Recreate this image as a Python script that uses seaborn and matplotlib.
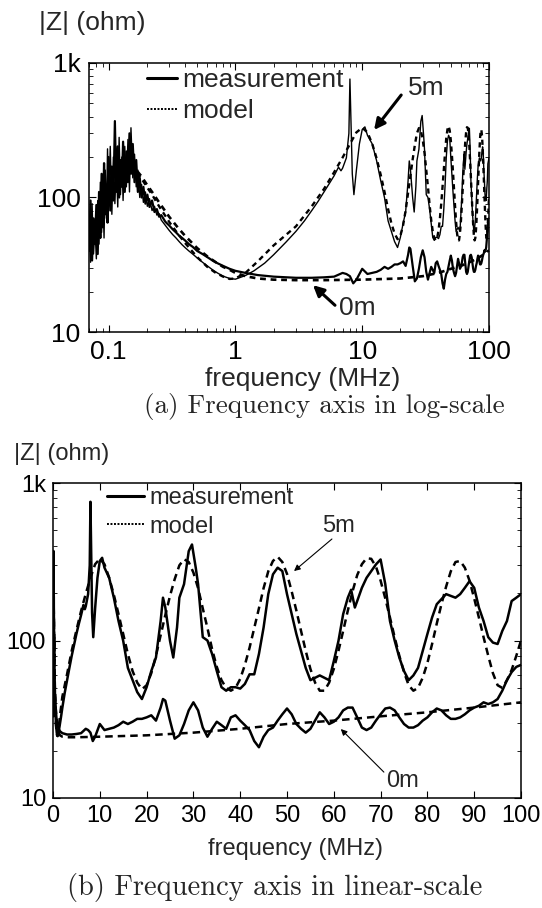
import numpy as np
import pandas as pd
import matplotlib
matplotlib.use("Agg")
import matplotlib.pyplot as plt
from matplotlib.lines import Line2D
import seaborn as sns

# ---------------- data ----------------
f_lo = [0.070, 0.072, 0.074, 0.076, 0.078, 0.080, 0.082, 0.084, 0.086, 0.088,
        0.090, 0.092, 0.094, 0.096, 0.098, 0.100, 0.103, 0.106, 0.109, 0.112,
        0.115, 0.118, 0.121, 0.124, 0.127, 0.130, 0.134, 0.138, 0.142, 0.146,
        0.150, 0.155, 0.160, 0.165, 0.170, 0.176, 0.182, 0.188, 0.195, 0.202,
        0.210, 0.22, 0.23, 0.24, 0.25, 0.26, 0.28, 0.30, 0.32, 0.34,
        0.36, 0.38, 0.40, 0.43, 0.46, 0.50, 0.55, 0.60, 0.66, 0.72,
        0.80, 0.90]

z_meas0_lo = [40, 95, 34, 70, 45, 88, 38, 110, 50, 150,
              60, 180, 75, 120, 65, 200, 80, 170, 95, 370,
              110, 240, 100, 190, 120, 260, 110, 220, 130, 300,
              150, 250, 130, 190, 110, 140, 100, 120, 90, 105,
              85, 95, 78, 82, 72, 74, 66, 62, 58, 55,
              52, 50, 48, 45, 43, 40, 38, 36, 34, 32.5,
              31, 29.5]

z_meas5_lo = [65, 33, 90, 38, 60, 35, 95, 45, 130, 55,
              110, 50, 160, 70, 230, 85, 240, 75, 200, 90,
              180, 85, 280, 105, 200, 95, 240, 120, 270, 110,
              330, 140, 210, 120, 160, 100, 125, 92, 110, 86,
              98, 80, 86, 74, 76, 68, 62, 57, 53, 50,
              47, 44.5, 42.5, 40, 38, 35.5, 33, 31, 29, 27.5,
              26, 25]

f_meas0_hi = [1.0, 1.2, 1.5, 2, 3, 4, 5, 6, 7, 7.5, 8, 8.5, 9,
              10, 11, 12, 13, 14, 15, 16, 17, 18, 19, 20, 21, 22, 23, 23.5,
              24, 25, 26, 27, 28, 29, 30, 31, 32, 33, 34, 35, 36, 37, 38, 39,
              40, 41, 42, 43, 44, 45, 46, 47, 48, 49, 50, 51, 52, 53, 54, 55,
              56, 57, 58, 59, 60, 61, 62, 63, 64, 65, 66, 67, 68, 69, 70, 71,
              72, 73, 74, 75, 76, 77, 78, 79, 80, 81, 82, 83, 84, 85, 86, 87,
              88, 89, 90, 91, 92, 93, 94, 95, 96, 97, 98, 99, 100]
z_meas0_hi = [28.5, 27.5, 26.5, 25.8, 25.3, 25.3, 25.5, 25.8, 27.5, 27, 26, 23, 24.5,
              29.5, 27, 27.5, 28, 29, 30.5, 29.5, 30.5, 31.8, 31.8, 32.5, 33.5, 31, 37.5, 42.5,
              41.5, 31, 23.8, 25, 29.5, 36, 40.5, 36, 28, 24.5, 27.5, 30.5, 29, 27.5, 32.5, 33.5,
              31, 29, 27, 23, 21, 24.5, 27, 28, 31, 34, 37, 34, 29.5, 27.5, 26, 27.5,
              31, 35, 32.5, 29.5, 30.5, 32.5, 36, 37.5, 37.5, 32.5, 28, 27, 28, 31, 34, 37,
              37.5, 36, 32.5, 29.5, 28, 28, 29, 31, 32.5, 35, 37, 36, 33.5, 31.8, 31.8, 32.5,
              34, 36, 37.5, 38.5, 40.5, 39.5, 40.5, 42.5, 48, 56, 63, 68, 70]

f_meas5_hi = [1.0, 1.2, 1.4, 1.7, 2, 2.5, 3, 3.5, 4, 4.5, 5, 5.5, 6, 6.5, 6.8, 7,
              7.5, 7.85, 8.0, 8.15, 8.35, 8.6, 9, 9.5, 10, 10.5, 11, 12, 13, 14, 15,
              16, 17, 18, 19, 20, 21, 22, 23, 23.5, 24, 25, 25.7, 26.5, 27, 28, 29,
              29.7, 30.5, 31, 32, 33, 34, 35, 36, 37, 38, 39, 40, 41, 42, 43, 44,
              45, 46, 47, 48, 49, 50, 51, 52, 53, 54, 55, 56, 57, 58, 59, 60, 61,
              62, 63, 63.7, 64.5, 65, 66, 67, 68, 69, 70, 71, 72, 73, 74, 75, 76,
              77, 78, 79, 80, 81, 82, 83, 84, 85, 86, 87, 88, 89, 90, 91, 92, 93,
              94, 95, 96, 97, 98, 99, 100]
z_meas5_hi = [24.7, 26.3, 28.5, 32.5, 37.5, 46.5, 56, 67, 80, 94, 110, 127, 145, 168, 158, 165,
              197, 300, 760, 380, 150, 105, 160, 250, 320, 335, 290, 250, 187, 133, 99.5,
              67, 56, 47, 42.5, 50.5, 64, 78, 133, 187, 162, 99.5, 78, 121, 187, 228, 369,
              407, 290, 228, 105, 100, 82, 64, 50.5, 48, 50.5, 50.5, 49.5, 53, 61, 61, 82,
              121, 197, 263, 290, 276, 197, 147, 110, 86, 67, 56, 58, 60, 58, 56, 74, 99.5,
              147, 187, 210, 162, 178, 216, 250, 276, 304, 327, 228, 133, 100, 78, 64, 56,
              60, 67, 86, 110, 140, 170, 183, 197, 192, 187, 197, 216, 238, 216, 162, 133, 105,
              97, 95, 115, 133, 178, 187, 197]

f_model5 = [0.07, 0.08, 0.09, 0.10, 0.11, 0.12, 0.13, 0.14, 0.15, 0.16, 0.17, 0.18,
            0.20, 0.22, 0.25, 0.30, 0.35, 0.40, 0.50, 0.60, 0.70, 0.80, 0.90, 1.0,
            1.2, 1.5, 2, 3, 4, 5, 6, 7, 8, 9, 10, 11, 12, 13, 14, 15, 16, 17, 18,
            19, 20, 21, 22, 23, 24, 25, 26, 27, 28, 29, 30, 31, 32, 33, 34, 35, 36,
            37, 38, 39, 40, 41, 42, 43, 44, 45, 46, 47, 48, 49, 50, 51, 52, 53, 54,
            55, 56, 57, 58, 59, 60, 61, 62, 63, 64, 65, 66, 67, 68, 69, 70, 71, 72,
            73, 74, 75, 76, 77, 78, 79, 80, 81, 82, 83, 84, 85, 86, 87, 88, 89, 90,
            91, 92, 93, 94, 95, 96, 97, 98, 99, 100]
z_model5 = [45, 60, 80, 100, 120, 138, 150, 158, 160, 158, 150, 140,
            120, 105, 86, 66, 54, 46, 36, 30.5, 27.5, 25.8, 24.8, 25,
            27.5, 33.5, 44, 61, 86, 116, 154, 198, 250, 305, 330, 305, 250, 195, 147, 110, 82, 64, 54,
            49, 52, 62, 80, 108, 145, 192, 245, 300, 328, 315, 270, 215, 160, 120, 88, 68, 56,
            50, 48, 50, 57, 70, 90, 120, 160, 215, 275, 320, 340, 315, 265, 205, 155, 115, 86,
            66, 54, 48, 48, 54, 66, 86, 115, 155, 205, 260, 305, 333, 330, 295, 240, 185, 140,
            105, 80, 63, 52, 48, 50, 58, 72, 95, 128, 170, 220, 275, 315, 320, 290, 240, 185,
            140, 105, 80, 62, 52, 50, 56, 65, 80, 100]

f_model0 = [0.07, 0.08, 0.09, 0.10, 0.11, 0.12, 0.13, 0.14, 0.15, 0.16, 0.17, 0.18,
            0.20, 0.22, 0.25, 0.30, 0.35, 0.40, 0.50, 0.60, 0.70, 0.80, 0.90, 1.0,
            1.2, 1.5, 2, 3, 5, 10, 20, 30, 40, 50, 60, 70, 80, 90, 100]
z_model0 = [45, 60, 80, 100, 120, 138, 152, 160, 163, 162, 155, 145,
            125, 110, 92, 72, 60, 52, 42, 36.5, 33, 30.5, 29, 27.5,
            26, 25, 24.5, 24.3, 24.3, 24.5, 25, 26, 27.5, 29.5, 31, 33, 35, 37.5, 40.5]

y_ticks = [10, 100, 1000]
y_tick_labels = ["10", "100", "1k"]
xa_ticks = [0.1, 1, 10, 100]
xa_tick_labels = ["0.1", "1", "10", "100"]
xb_ticks = [0, 10, 20, 30, 40, 50, 60, 70, 80, 90, 100]

meas0 = pd.DataFrame({"f": f_lo + f_meas0_hi, "z": z_meas0_lo + z_meas0_hi})
meas5 = pd.DataFrame({"f": f_lo + f_meas5_hi, "z": z_meas5_lo + z_meas5_hi})
model5 = pd.DataFrame({"f": f_model5, "z": z_model5})
model0 = pd.DataFrame({"f": f_model0, "z": z_model0})

# ---------------- style ----------------
sns.set_theme(style="ticks")
plt.rcParams["font.family"] = ["Liberation Sans", "DejaVu Sans"]
plt.rcParams["axes.linewidth"] = 1.1
plt.rcParams["axes.edgecolor"] = "black"

fig = plt.figure(figsize=(5.42, 9.08), dpi=100)
W, H = 542.0, 908.0

def add_axes_px(l, t, r, b):
    return fig.add_axes([l / W, 1 - b / H, (r - l) / W, (b - t) / H])

def style_axes(ax, fs, pad):
    ax.set_facecolor("white")
    for s in ax.spines.values():
        s.set_color("black")
        s.set_linewidth(1.1)
    ax.tick_params(which="both", direction="in", top=True, right=True,
                   colors="black", labelsize=fs, pad=pad)
    ax.tick_params(which="major", length=5, width=0.8)
    ax.tick_params(which="minor", length=3, width=0.6)
    ax.set_xlabel("")
    ax.set_ylabel("")

# ---------------- panel (a) ----------------
fsa = 19
axa = add_axes_px(89, 63, 489, 332)
sns.lineplot(data=meas5, x="f", y="z", ax=axa, color="black", lw=1.0,
             estimator=None, sort=False)
sns.lineplot(data=meas0, x="f", y="z", ax=axa, color="black", lw=1.6,
             estimator=None, sort=False)
sns.lineplot(data=model5, x="f", y="z", ax=axa, color="black", lw=1.7,
             estimator=None, sort=False, linestyle=(0, (2.2, 1.8)))
sns.lineplot(data=model0, x="f", y="z", ax=axa, color="black", lw=1.9,
             estimator=None, sort=False, linestyle=(0, (2.2, 1.8)))
axa.set_xscale("log")
axa.set_yscale("log")
axa.set_xlim(0.07, 100)
axa.set_ylim(10, 1000)
axa.set_xticks(xa_ticks, labels=xa_tick_labels)
axa.set_yticks(y_ticks, labels=y_tick_labels)
style_axes(axa, fsa, 6)

handles = [Line2D([], [], color="black", lw=2.2),
           Line2D([], [], color="black", lw=1.4, linestyle=(0, (1, 0.8)))]
axa.legend(handles, ["measurement", "model"], loc="upper left",
           bbox_to_anchor=((147 - 89) / 400, 1 - 5 / 269), frameon=False,
           fontsize=fsa, handlelength=1.15, handletextpad=0.2,
           labelspacing=0.26, borderpad=0.0, borderaxespad=0.0)

axa.annotate("", xy=(12.4, 318), xytext=(20.3, 578),
             arrowprops=dict(arrowstyle="-|>", lw=2.2, color="black",
                             mutation_scale=16, shrinkA=0, shrinkB=0))
axa.text(31.9, 652, "5m", ha="center", va="center", fontsize=fsa)
axa.annotate("", xy=(4.09, 22.3), xytext=(6.1, 15.8),
             arrowprops=dict(arrowstyle="-|>", lw=2.2, color="black",
                             mutation_scale=16, shrinkA=0, shrinkB=0))
axa.text(9.1, 15.1, "0m", ha="center", va="center", fontsize=fsa)

fig.text(92 / W, 1 - 23 / H, "|Z| (ohm)", ha="center", va="center", fontsize=fsa)
fig.text(303 / W, 1 - 379 / H, "frequency (MHz)", ha="center", va="center", fontsize=fsa)
fig.text(324 / W, 1 - 406 / H, "(a) Frequency axis in log-scale", ha="center",
         va="center", fontsize=19.5, family=["cmr10", "DejaVu Serif"])

# ---------------- panel (b) ----------------
fsb = 17
axb = add_axes_px(53, 483, 521, 798)
sns.lineplot(data=meas5, x="f", y="z", ax=axb, color="black", lw=1.8,
             estimator=None, sort=False)
sns.lineplot(data=meas0, x="f", y="z", ax=axb, color="black", lw=1.8,
             estimator=None, sort=False)
sns.lineplot(data=model5, x="f", y="z", ax=axb, color="black", lw=1.8,
             estimator=None, sort=False, linestyle=(0, (3, 2)))
sns.lineplot(data=model0, x="f", y="z", ax=axb, color="black", lw=1.8,
             estimator=None, sort=False, linestyle=(0, (3, 2)))
axb.set_yscale("log")
axb.set_xlim(0, 100)
axb.set_ylim(10, 1000)
axb.set_xticks(xb_ticks)
axb.set_yticks(y_ticks, labels=y_tick_labels)
style_axes(axb, fsb, 5)

handles_b = [Line2D([], [], color="black", lw=2.2),
             Line2D([], [], color="black", lw=1.4, linestyle=(0, (1, 0.8)))]
axb.legend(handles_b, ["measurement", "model"], loc="upper left",
           bbox_to_anchor=((107 - 53) / 468, 1 - 4 / 315), frameon=False,
           fontsize=fsb, handlelength=1.55, handletextpad=0.25,
           labelspacing=0.28, borderpad=0.0, borderaxespad=0.0)

axb.annotate("", xy=(51.5, 276), xytext=(59.6, 441),
             arrowprops=dict(arrowstyle="-|>", lw=0.8, color="black",
                             mutation_scale=9, shrinkA=0, shrinkB=0))
axb.text(61.1, 533, "5m", ha="center", va="center", fontsize=fsb)
axb.annotate("", xy=(61.5, 27.4), xytext=(70.7, 14.6),
             arrowprops=dict(arrowstyle="-|>", lw=0.8, color="black",
                             mutation_scale=9, shrinkA=0, shrinkB=0))
axb.text(74.6, 12.8, "0m", ha="center", va="center", fontsize=fsb)

fig.text(62 / W, 1 - 454 / H, "|Z| (ohm)", ha="center", va="center", fontsize=fsb)
fig.text(295 / W, 1 - 849 / H, "frequency (MHz)", ha="center", va="center", fontsize=fsb)
fig.text(275 / W, 1 - 887 / H, "(b) Frequency axis in linear-scale", ha="center",
         va="center", fontsize=20.5, family=["cmr10", "DejaVu Serif"])

fig.savefig("out.png", dpi=100, facecolor="white")
